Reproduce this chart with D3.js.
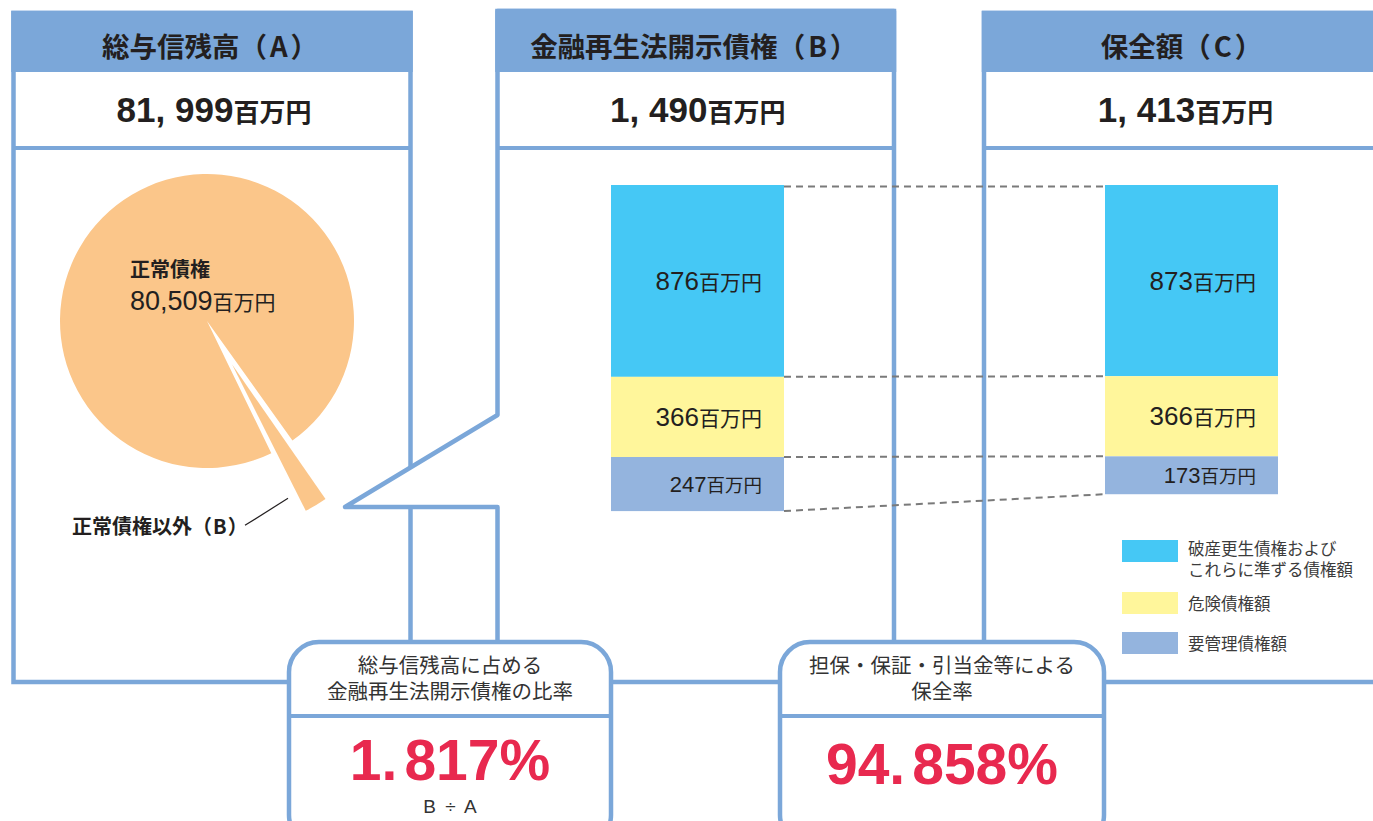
<!DOCTYPE html>
<html><head><meta charset="utf-8">
<script src="https://cdn.jsdelivr.net/npm/d3@7"></script>
<style>
body{margin:0;background:#fff;}
svg{display:block;}
text{font-family:"Liberation Sans","Noto Sans CJK JP",sans-serif;fill:#231f20;}
text.jp{font-family:"Noto Sans CJK JP","Liberation Sans",sans-serif;}
</style>
</head><body>
<svg id="c" width="1373" height="821"></svg>
<script>
// ---------- data ----------
const panelTitles = ["総与信残高（A）", "金融再生法開示債権（B）", "保全額（C）"];
const panelTotals = [81999, 1490, 1413];
const unit = "百万円";
const pieLabels = ["正常債権", "正常債権以外（B）"];
const pieValues = [80509, 1490];
const barGroups = ["B", "C"];
const segKeys = ["bankrupt", "doubtful", "special"];
const valuesB = [876, 366, 247];
const valuesC = [873, 366, 173];
const legendLines = [["破産更生債権および", "これらに準ずる債権額"], ["危険債権額"], ["要管理債権額"]];
const ratioTitles = [["総与信残高に占める", "金融再生法開示債権の比率"], ["担保・保証・引当金等による", "保全率"]];
const ratioValues = [1.817, 94.858];
const ratioNotes = ["B ÷ A", ""];

// ---------- style / layout ----------
const blue = "#7ba7d9", sw = 4.5;
const segColors = ["#45c8f5", "#fff69b", "#94b4de"];
const pieColor = "#fbc68a";
const red = "#e8294f";
const svg = d3.select("#c");
svg.append("rect").attr("width", 1373).attr("height", 821).attr("fill", "#fff");

// writes a label, adjusting the spacing around full-width parentheses
function parenText(sel, str, gaps) {
  const m = str.match(/^(.*)（(.*)）$/);
  if (!m) { sel.text(str); return; }
  sel.append("tspan").text(m[1]);
  sel.append("tspan").attr("dx", gaps[0]).text("（");
  sel.append("tspan").attr("dx", gaps[1]).text(m[2]);
  sel.append("tspan").attr("dx", gaps[2]).text("）");
}

const panels = [
  {x0: 13.5, x1: 410.5, top: 13},
  {x0: 497.5, x1: 894, top: 11},
  {x0: 984, x1: 1383, top: 13}
];
const bottom = 682, headBottom = 72, divY = 148;

// panel A outline
const pA = panels[0];
svg.append("rect").attr("x", pA.x0).attr("y", pA.top).attr("width", pA.x1 - pA.x0).attr("height", bottom - pA.top)
  .attr("fill", "#fff").attr("stroke", blue).attr("stroke-width", sw);

// ---------- pie ----------
const cx = 207, cy = 321, R = 147;
const total = d3.sum(pieValues);
const f = pieValues[1] / total;
const mid = 150 * Math.PI / 180;
const start = mid - 2 * Math.PI + Math.PI * f;
const pie = d3.pie().sort(null).startAngle(start).endAngle(start + 2 * Math.PI).padAngle(0.027);
const arcs = pie(pieValues);
const gPie = svg.append("g").attr("transform", `translate(${cx},${cy})`);
gPie.append("path").attr("d", d3.arc().innerRadius(0).outerRadius(R)(arcs[0])).attr("fill", pieColor);
const explode = 50, Rx = 164;
const ex = explode * Math.sin(mid), ey = -explode * Math.cos(mid);
const expArc = Object.assign({}, arcs[1], {padAngle: 0});
gPie.append("path").attr("transform", `translate(${ex},${ey})`)
  .attr("d", d3.arc().innerRadius(0).outerRadius(Rx)(expArc)).attr("fill", pieColor);

// pie labels
svg.append("text").attr("class", "jp").attr("x", 130).attr("y", 277).attr("font-size", 20).attr("font-weight", "bold").text(pieLabels[0]);
const lv = svg.append("text").attr("x", 130).attr("y", 310);
lv.append("tspan").attr("font-size", 27).text(d3.format(",")(pieValues[0]));
lv.append("tspan").attr("font-size", 21).text(unit);
// outer label with leader
const tipX = cx + (explode + Rx) * Math.sin(mid), tipY = cy - (explode + Rx) * Math.cos(mid);
svg.append("line").attr("x1", tipX - 26).attr("y1", tipY - 8).attr("x2", tipX - 69).attr("y2", tipY + 19)
  .attr("stroke", "#231f20").attr("stroke-width", 1.2);
parenText(svg.append("text").attr("class", "jp").attr("x", 72).attr("y", tipY + 28)
  .attr("font-size", 20).attr("font-weight", "bold"), pieLabels[1], [0, 1, 1]);

// panel B outline (with callout)
const pB = panels[1];
const tipCx = 345, calloutTop = 415, calloutBot = 507;
svg.append("path")
  .attr("d", `M${pB.x0},${pB.top}H${pB.x1}V${bottom}H${pB.x0}V${calloutBot}H${tipCx}L${pB.x0},${calloutTop}Z`)
  .attr("fill", "#fff").attr("stroke", blue).attr("stroke-width", sw).attr("stroke-linejoin", "round");

// panel C outline
const pC = panels[2];
svg.append("rect").attr("x", pC.x0).attr("y", pC.top).attr("width", pC.x1 - pC.x0).attr("height", bottom - pC.top)
  .attr("fill", "#fff").attr("stroke", blue).attr("stroke-width", sw);

// headers, values, dividers
panels.forEach((p, i) => {
  svg.append("rect").attr("x", p.x0 - sw / 2).attr("y", p.top - sw / 2)
    .attr("width", p.x1 - p.x0 + sw).attr("height", headBottom - p.top + sw / 2).attr("fill", blue);
  svg.append("line").attr("x1", p.x0).attr("x2", p.x1).attr("y1", divY).attr("y2", divY)
    .attr("stroke", blue).attr("stroke-width", 4);
  const c = (p.x0 + p.x1) / 2;
  parenText(svg.append("text").attr("class", "jp").attr("x", c - 2).attr("y", 57).attr("text-anchor", "middle")
    .attr("font-size", 27.5).attr("font-weight", "bold"), panelTitles[i], [0, 3, 3]);
  const t = svg.append("text").attr("x", c + 2).attr("y", 122).attr("text-anchor", "middle").attr("font-weight", "bold");
  t.append("tspan").attr("font-size", 35).text(d3.format(",")(panelTotals[i]).replace(",", ", "));
  t.append("tspan").attr("font-size", 26).text(unit);
});

// ---------- stacked bars ----------
const rows = [valuesB, valuesC].map((v, i) => {
  const o = {group: barGroups[i]};
  segKeys.forEach((k, j) => o[k] = v[j]);
  return o;
});
const series = d3.stack().keys(segKeys)(rows);
const x = d3.scaleBand().domain(barGroups).range([611, 1278]).paddingInner(0.6498).paddingOuter(0);
const barTop = 185;
const y = d3.scaleLinear().domain([0, 1490]).range([barTop, barTop + 1490 * 0.219]);
const gBars = svg.append("g");
series.forEach((s, j) => {
  gBars.selectAll(null).data(s).enter().append("rect")
    .attr("x", d => x(d.data.group)).attr("width", x.bandwidth())
    .attr("y", d => y(d[0])).attr("height", d => y(d[1]) - y(d[0]))
    .attr("fill", segColors[j]);
});
// dashed connectors
const cum = rows.map(r => { let a = 0; const out = [0]; segKeys.forEach(k => { a += r[k]; out.push(a); }); return out; });
const lx = x("B") + x.bandwidth(), rx = x("C");
cum[0].forEach((v, k) => {
  const y1 = k === 0 ? y(v) + 1.5 : y(v), y2 = k === 0 ? y(cum[1][k]) + 1.5 : y(cum[1][k]);
  svg.append("line").attr("x1", lx).attr("x2", rx).attr("y1", y1).attr("y2", y2)
    .attr("stroke", "#7a7a7a").attr("stroke-width", 2).attr("stroke-dasharray", "7,5");
});
// bar labels
series.forEach((s, j) => {
  s.forEach(d => {
    const h = y(d[1]) - y(d[0]);
    const small = h < 60;
    const t = svg.append("text").attr("x", x(d.data.group) + x.bandwidth() - 22)
      .attr("y", (y(d[0]) + y(d[1])) / 2).attr("dy", small ? 8 : 9).attr("text-anchor", "end");
    t.append("tspan").attr("font-size", small ? 22 : 26).text(d.data[segKeys[j]]);
    t.append("tspan").attr("font-size", small ? 18.5 : 21).text(unit);
  });
});

// legend
const legY = [540, 592, 632];
legendLines.forEach((lines, i) => {
  svg.append("rect").attr("x", 1122).attr("y", legY[i]).attr("width", 56).attr("height", 22).attr("fill", segColors[i]);
  const t = svg.append("text").attr("font-size", 16.5).style("fill", "#3c3c3c");
  lines.forEach((l, k) => {
    const base = lines.length > 1 ? legY[i] + 11 + 3.5 + k * 21 : legY[i] + 11 + 7;
    t.append("tspan").attr("x", 1188).attr("y", base).text(l);
  });
});

// ---------- ratio boxes ----------
const boxes = [{x0: 289, x1: 611}, {x0: 780, x1: 1104}];
const boxTop = 642, boxBot = 845, boxDiv = 716;
boxes.forEach((b, i) => {
  svg.append("rect").attr("x", b.x0).attr("y", boxTop).attr("width", b.x1 - b.x0).attr("height", boxBot - boxTop)
    .attr("rx", 30).attr("fill", "#fff").attr("stroke", blue).attr("stroke-width", sw);
  svg.append("line").attr("x1", b.x0).attr("x2", b.x1).attr("y1", boxDiv).attr("y2", boxDiv)
    .attr("stroke", blue).attr("stroke-width", 4);
  const c = (b.x0 + b.x1) / 2;
  ratioTitles[i].forEach((l, k) => {
    svg.append("text").attr("x", c).attr("y", 673 + k * 26).attr("text-anchor", "middle")
      .attr("font-size", 20.5).style("fill", "#333").text(l);
  });
  const parts = d3.format(".3f")(ratioValues[i]).split(".");
  const t = svg.append("text").attr("x", c).attr("y", i === 0 ? 780 : 784).attr("text-anchor", "middle")
    .attr("font-size", 57).attr("font-weight", "bold").style("fill", red);
  t.append("tspan").text(parts[0] + ".");
  t.append("tspan").attr("dx", 7).text(parts[1] + "%");
  if (ratioNotes[i]) {
    svg.append("text").attr("x", c + 1).attr("y", 813).attr("text-anchor", "middle")
      .attr("font-size", 19).attr("letter-spacing", 2).style("fill", "#333").text(ratioNotes[i]);
  }
});
</script>
</body></html>
